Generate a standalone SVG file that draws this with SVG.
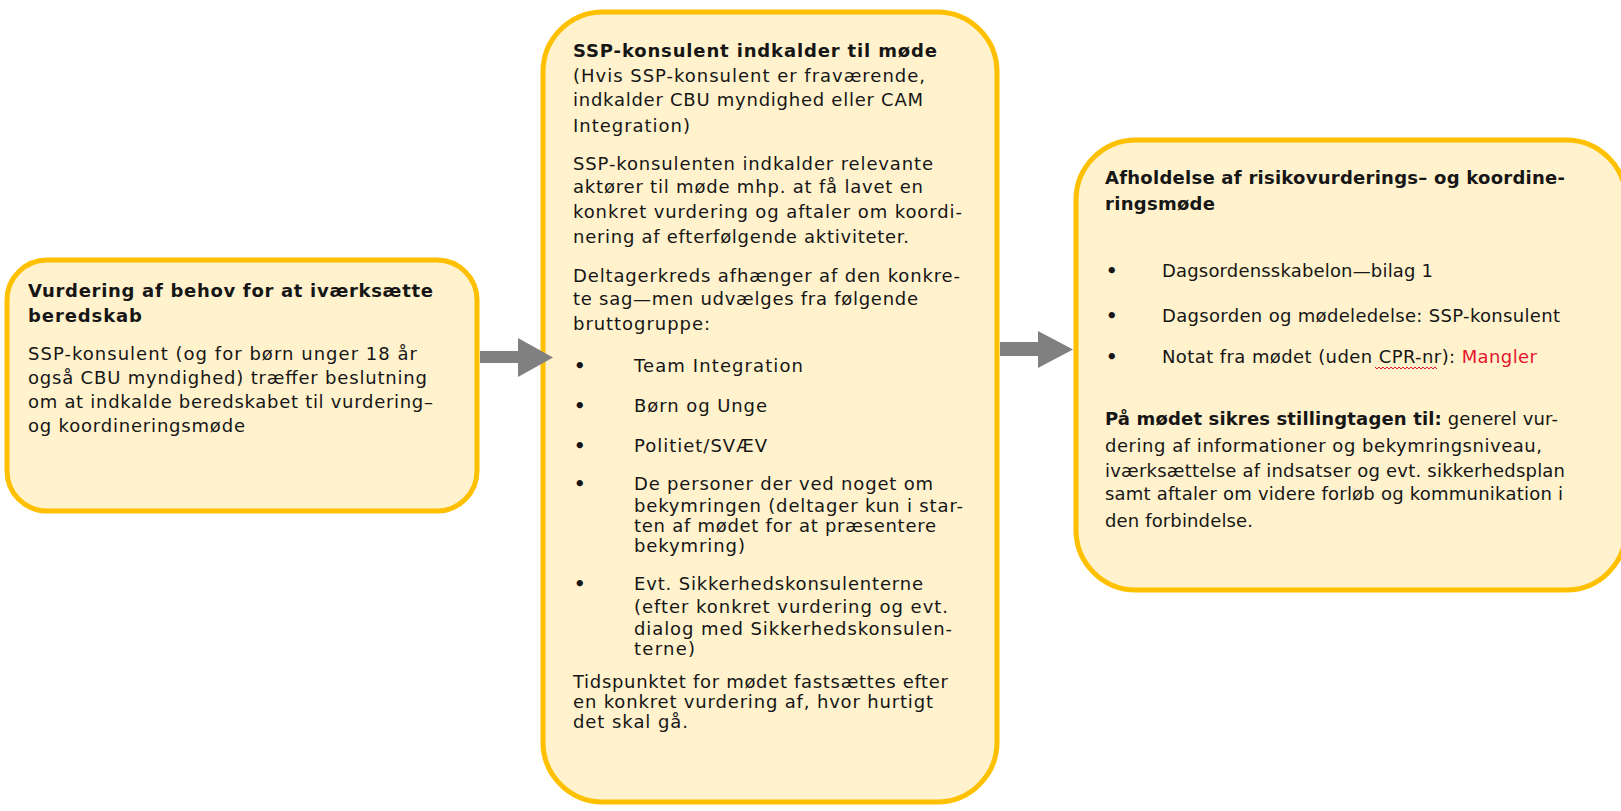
<svg xmlns="http://www.w3.org/2000/svg" width="1621" height="811" viewBox="0 0 1621 811">
<style>
.box{fill:#FFF2CC;stroke:#FFC000;stroke-width:5}
text{font-family:"DejaVu Sans","Liberation Sans",sans-serif;font-size:18px;fill:#161616}
.b{font-weight:bold}
.bul{font-weight:bold;font-size:18px}
.red{fill:#E5142F}
.arrow{fill:#808080}
</style>
<rect width="1621" height="811" fill="#FFFFFF"/>
<g id="node-vurdering">
<rect class="box" x="7" y="260" width="470" height="251" rx="40"/>
<text class="b" x="28" y="297" textLength="405" lengthAdjust="spacing">Vurdering af behov for at iværksætte</text>
<text class="b" x="28" y="322" textLength="114" lengthAdjust="spacing">beredskab</text>
<text x="28" y="360" textLength="389" lengthAdjust="spacing">SSP-konsulent (og for børn unger 18 år</text>
<text x="28" y="384" textLength="399" lengthAdjust="spacing">også CBU myndighed) træffer beslutning</text>
<text x="28" y="408" textLength="405" lengthAdjust="spacing">om at indkalde beredskabet til vurdering–</text>
<text x="28" y="432" textLength="217" lengthAdjust="spacing">og koordineringsmøde</text>
</g>
<g id="node-indkalder">
<rect class="box" x="543" y="12" width="454" height="790" rx="60"/>
<text class="b" x="573" y="57" textLength="364" lengthAdjust="spacing">SSP-konsulent indkalder til møde</text>
<text x="573" y="82" textLength="352" lengthAdjust="spacing">(Hvis SSP-konsulent er fraværende,</text>
<text x="573" y="106" textLength="350" lengthAdjust="spacing">indkalder CBU myndighed eller CAM</text>
<text x="573" y="132" textLength="117" lengthAdjust="spacing">Integration)</text>
<text x="573" y="170" textLength="360" lengthAdjust="spacing">SSP-konsulenten indkalder relevante</text>
<text x="573" y="193" textLength="350" lengthAdjust="spacing">aktører til møde mhp. at få lavet en</text>
<text x="573" y="218" textLength="389" lengthAdjust="spacing">konkret vurdering og aftaler om koordi-</text>
<text x="573" y="243" textLength="336" lengthAdjust="spacing">nering af efterfølgende aktiviteter.</text>
<text x="573" y="282" textLength="387" lengthAdjust="spacing">Deltagerkreds afhænger af den konkre-</text>
<text x="573" y="305" textLength="345" lengthAdjust="spacing">te sag—men udvælges fra følgende</text>
<text x="573" y="330" textLength="137" lengthAdjust="spacing">bruttogruppe:</text>
<text class="bul" x="574" y="372">•</text>
<text x="634" y="372" textLength="169" lengthAdjust="spacing">Team Integration</text>
<text class="bul" x="574" y="412">•</text>
<text x="634" y="412" textLength="133" lengthAdjust="spacing">Børn og Unge</text>
<text class="bul" x="574" y="452">•</text>
<text x="634" y="452" textLength="133" lengthAdjust="spacing">Politiet/SVÆV</text>
<text class="bul" x="574" y="490">•</text>
<text x="634" y="490" textLength="299" lengthAdjust="spacing">De personer der ved noget om</text>
<text x="634" y="512" textLength="329" lengthAdjust="spacing">bekymringen (deltager kun i star-</text>
<text x="634" y="532" textLength="302" lengthAdjust="spacing">ten af mødet for at præsentere</text>
<text x="634" y="552" textLength="111" lengthAdjust="spacing">bekymring)</text>
<text class="bul" x="574" y="590">•</text>
<text x="634" y="590" textLength="289" lengthAdjust="spacing">Evt. Sikkerhedskonsulenterne</text>
<text x="634" y="613" textLength="314" lengthAdjust="spacing">(efter konkret vurdering og evt.</text>
<text x="634" y="635" textLength="318" lengthAdjust="spacing">dialog med Sikkerhedskonsulen-</text>
<text x="634" y="655" textLength="61" lengthAdjust="spacing">terne)</text>
<text x="573" y="688" textLength="375" lengthAdjust="spacing">Tidspunktet for mødet fastsættes efter</text>
<text x="573" y="708" textLength="360" lengthAdjust="spacing">en konkret vurdering af, hvor hurtigt</text>
<text x="573" y="728" textLength="115" lengthAdjust="spacing">det skal gå.</text>
</g>
<g id="node-afholdelse">
<rect class="box" x="1076" y="140" width="550" height="450" rx="60"/>
<text class="b" x="1105" y="184" textLength="460" lengthAdjust="spacing">Afholdelse af risikovurderings– og koordine-</text>
<text class="b" x="1105" y="210" textLength="110" lengthAdjust="spacing">ringsmøde</text>
<text class="bul" x="1106" y="277">•</text>
<text x="1162" y="277" textLength="271" lengthAdjust="spacing">Dagsordensskabelon—bilag 1</text>
<text class="bul" x="1106" y="322">•</text>
<text x="1162" y="322" textLength="398" lengthAdjust="spacing">Dagsorden og mødeledelse: SSP-konsulent</text>
<text class="bul" x="1106" y="363">•</text>
<text x="1162" y="363" textLength="375" lengthAdjust="spacing">Notat fra mødet (uden CPR-nr): <tspan class="red">Mangler</tspan></text>
<path d="M1375 367 l2 2 l2 -2 l2 2 l2 -2 l2 2 l2 -2 l2 2 l2 -2 l2 2 l2 -2 l2 2 l2 -2 l2 2 l2 -2 l2 2 l2 -2 l2 2 l2 -2 l2 2 l2 -2 l2 2 l2 -2 l2 2 l2 -2 l2 2 l2 -2 l2 2 l2 -2 l2 2 l2 -2 l2 2" fill="none" stroke="#E5142F" stroke-width="1"/>
<text x="1105" y="425" textLength="453" lengthAdjust="spacing"><tspan class="b">På mødet sikres stillingtagen til:</tspan> generel vur-</text>
<text x="1105" y="452" textLength="437" lengthAdjust="spacing">dering af informationer og bekymringsniveau,</text>
<text x="1105" y="477" textLength="460" lengthAdjust="spacing">iværksættelse af indsatser og evt. sikkerhedsplan</text>
<text x="1105" y="500" textLength="458" lengthAdjust="spacing">samt aftaler om videre forløb og kommunikation i</text>
<text x="1105" y="527" textLength="148" lengthAdjust="spacing">den forbindelse.</text>
</g>
<g id="connectors">
<path class="arrow" d="M480 351 H518 V338 L553 357.5 L518 377 V363 H480 Z"/>
<path class="arrow" d="M1000 342 H1038 V331 L1073 349.5 L1038 368 V356 H1000 Z"/>
</g>
</svg>
